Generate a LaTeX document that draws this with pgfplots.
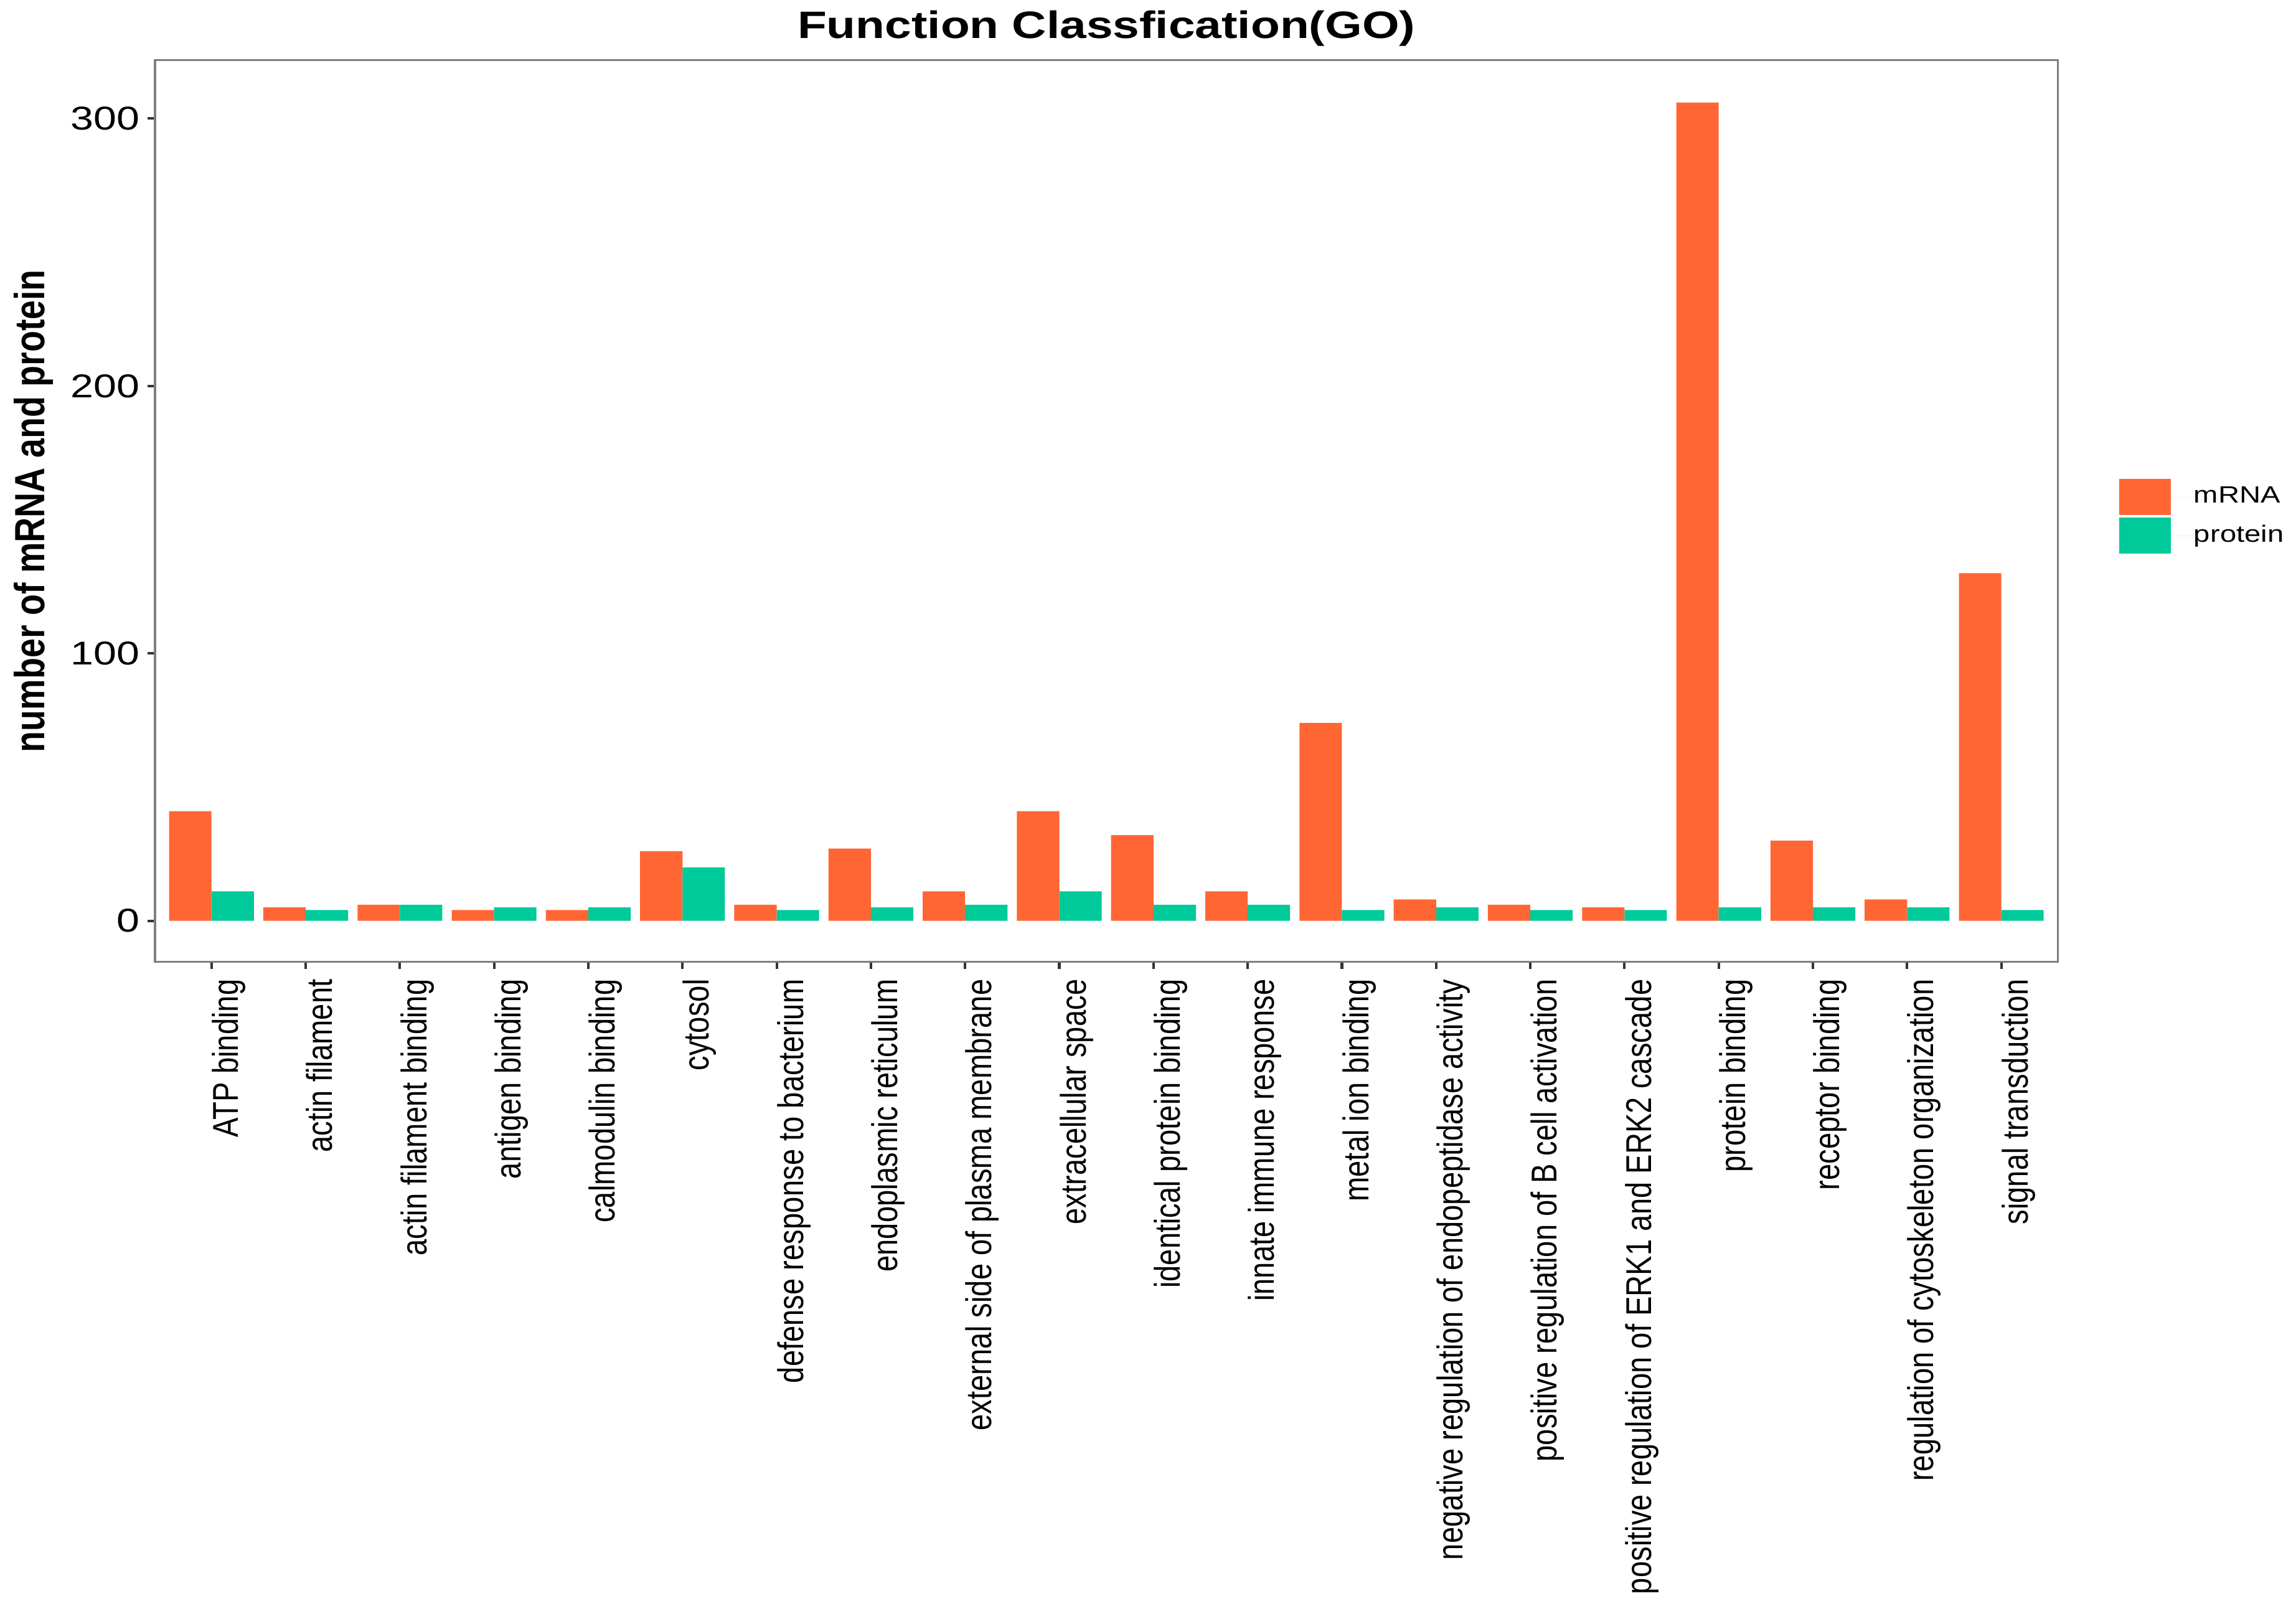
\documentclass[border=0pt]{standalone}
\usepackage{pgfplots}
\pgfplotsset{compat=1.18}
\usepackage{fontspec}
\setmainfont{Liberation Sans}
% the picture is stretched sideways, so wide type for flat text, narrow for turned text
\newfontfamily\hfont[FakeStretch=1.25]{Liberation Sans}
\newfontfamily\vfont[FakeStretch=0.82]{Liberation Sans}
\definecolor{mrna}{HTML}{FF6633}
\definecolor{prot}{HTML}{00C99A}
\definecolor{boxgray}{HTML}{7F7F7F}
\begin{document}
\begin{tikzpicture}
\begin{axis}[name=ax,
  width=663pt, height=314pt, scale only axis,
  ybar=0pt, bar width=0.45,
  xmin=-0.6, xmax=19.6, ymin=-15.3, ymax=321.8,
  xtick={0,...,19}, ytick={0,100,200,300},
  xticklabels={ATP binding, actin filament, actin filament binding, antigen binding, calmodulin binding, cytosol, defense response to bacterium, endoplasmic reticulum, external side of plasma membrane, extracellular space, identical protein binding, innate immune response, metal ion binding, negative regulation of endopeptidase activity, positive regulation of B cell activation, positive regulation of ERK1 and ERK2 cascade, protein binding, receptor binding, regulation of cytoskeleton organization, signal transduction},
  tick align=outside, xtick pos=bottom, ytick pos=left,
  major tick length=2.6pt,
  tick style={black!80, line width=0.9pt},
  axis line style={boxgray, line width=0.7pt},
  /pgf/number format/assume math mode=true,
  xticklabel style={yshift=-3.3pt, rotate=90, anchor=north east, inner sep=0pt, font=\vfont\fontsize{12.5}{14}\selectfont},
  yticklabel style={anchor=east, inner sep=0pt, xshift=-2.5pt, font=\hfont\fontsize{11.5}{13}\selectfont},
  title={Function Classfication(GO)},
  every axis title/.style={at={(0.5,1)}, anchor=base, yshift=7.6pt, font=\hfont\bfseries\fontsize{13.3}{15}\selectfont},
  ylabel={number of mRNA and protein},
  every axis y label/.style={at={(rel axis cs:0,0.5)}, xshift=-42.3pt, rotate=90, anchor=center, font=\vfont\bfseries\fontsize{14.7}{16}\selectfont},
  every axis plot post/.append style={legend image code/.code={%
    \fill[#1, draw=none] (0pt,-6.3pt) rectangle (18pt,6.3pt);
    \path (0pt,0pt) -- (26pt,0pt);}},
  legend style={draw=none, fill=none, at={(1.032,0.494)}, anchor=west,
    row sep=0.9pt, inner sep=0pt,
    nodes={inner sep=0pt, font=\hfont\fontsize{8.2}{9}\selectfont}},
  legend cell align=left,
]
\addplot[fill=mrna, draw=none] coordinates {(0,41) (1,5) (2,6) (3,4) (4,4) (5,26) (6,6) (7,27) (8,11) (9,41) (10,32) (11,11) (12,74) (13,8) (14,6) (15,5) (16,306) (17,30) (18,8) (19,130)};
\addplot[fill=prot, draw=none] coordinates {(0,11) (1,4) (2,6) (3,5) (4,5) (5,20) (6,4) (7,5) (8,6) (9,11) (10,6) (11,6) (12,4) (13,5) (14,4) (15,4) (16,5) (17,5) (18,5) (19,4)};
\legend{mRNA, protein}
\end{axis}
\pgfresetboundingbox
\path[use as bounding box] ([xshift=-54pt,yshift=-226pt]ax.south west) rectangle ([xshift=83pt,yshift=21pt]ax.north east);
\end{tikzpicture}
\end{document}
